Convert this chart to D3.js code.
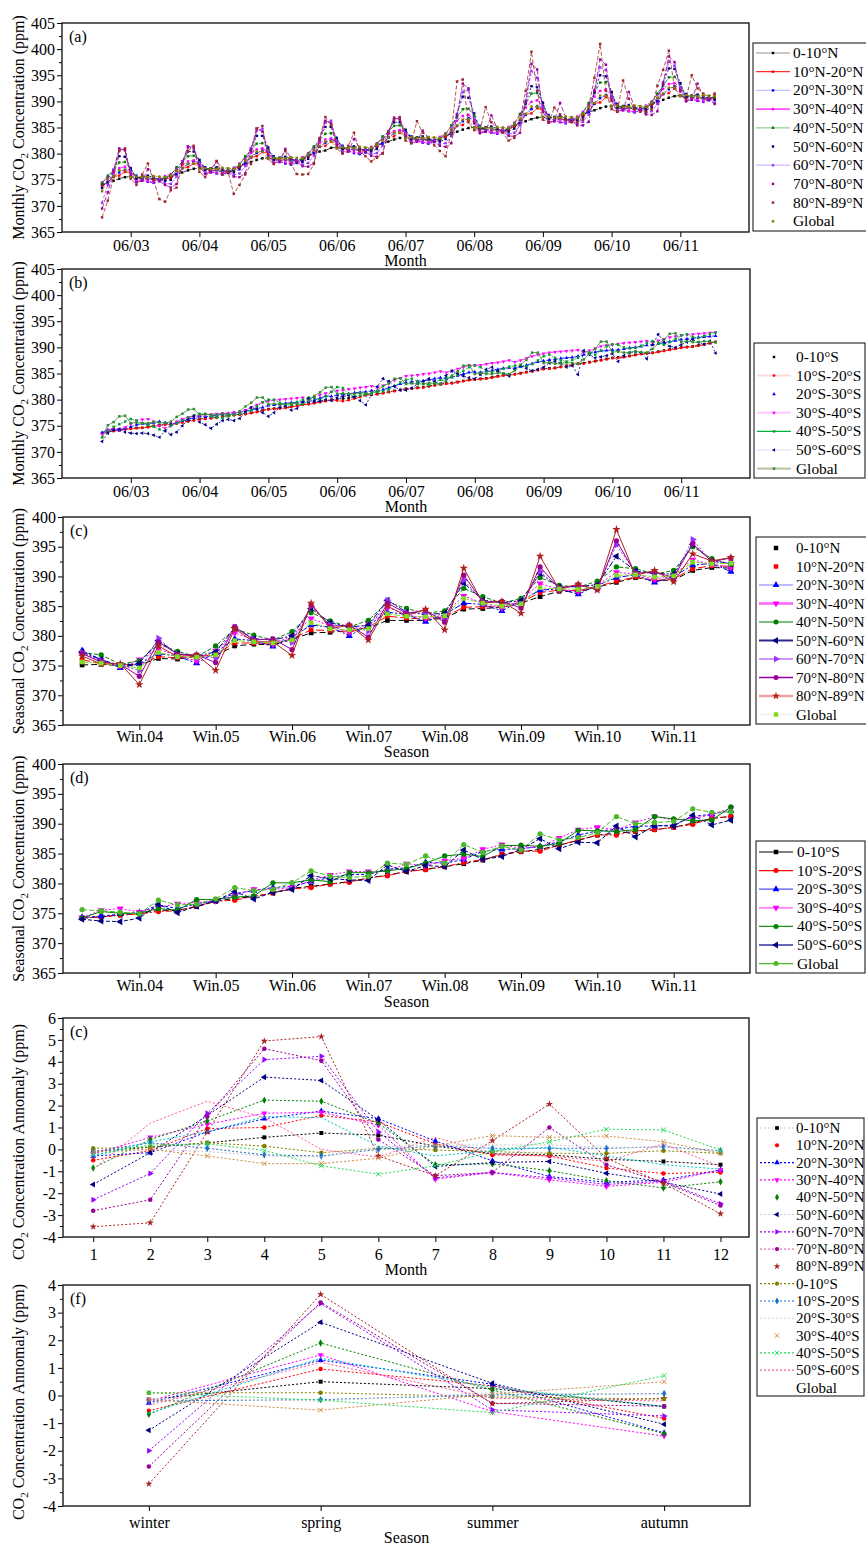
<!DOCTYPE html>
<html>
<head>
<meta charset="utf-8">
<script src="https://cdn.jsdelivr.net/npm/d3@7"></script>
<style>
  body { margin: 0; background: #fff; }
  svg text { font-family: "Liberation Serif", "Times New Roman", Times, serif; fill: #000; }
</style>
</head>
<body>
<div id="chart"></div>
<script>
// ---------- (a) monthly NH, Jan 2003 .. Dec 2011 ----------
const monthlyN0 = [
  374.0, 374.4, 374.8, 375.2, 375.5, 375.6, 375.2, 375.1, 375.2, 375.1, 375.2, 375.2,
  375.6, 376.0, 376.4, 376.8, 377.1, 377.2, 376.8, 376.7, 376.8, 376.5, 376.8, 376.8,
  377.6, 378.0, 378.4, 378.8, 379.1, 379.2, 378.8, 378.7, 378.8, 378.7, 378.8, 378.8,
  379.6, 380.0, 380.4, 380.6, 381.1, 381.2, 380.8, 380.7, 380.8, 380.7, 380.8, 380.8,
  381.5, 381.9, 382.3, 382.7, 383.0, 383.1, 382.7, 382.6, 382.7, 382.6, 382.7, 382.7,
  383.4, 383.8, 384.2, 384.6, 384.9, 385.0, 384.8, 384.5, 384.6, 384.5, 384.6, 384.6,
  385.4, 385.8, 386.2, 386.6, 386.9, 387.0, 386.6, 386.5, 386.6, 386.5, 386.6, 386.6,
  387.5, 387.9, 388.3, 388.7, 389.0, 389.1, 388.7, 388.6, 388.7, 388.6, 388.7, 388.7,
  389.5, 389.9, 390.3, 390.7, 391.0, 391.1, 390.7, 390.6, 390.7, 390.6, 390.7, 390.7
];
const monthlyN10 = [
  373.8, 374.5, 375.6, 375.8, 376.5, 376.4, 375.5, 375.2, 375.3, 374.9, 374.8, 375.1,
  375.4, 376.1, 377.2, 377.4, 378.1, 378.0, 377.1, 376.8, 376.9, 376.5, 376.4, 376.7,
  377.4, 378.1, 379.3, 379.5, 380.3, 380.1, 379.1, 378.7, 378.9, 378.4, 378.3, 378.6,
  379.4, 380.1, 381.3, 381.5, 382.3, 382.1, 381.1, 380.7, 380.9, 380.4, 380.3, 380.6,
  381.3, 382.0, 383.1, 383.3, 384.0, 383.9, 383.0, 382.7, 382.8, 382.4, 382.3, 382.6,
  383.2, 383.9, 385.3, 385.5, 386.4, 386.1, 385.0, 384.6, 384.7, 384.3, 384.2, 384.5,
  385.2, 385.9, 387.5, 387.7, 388.7, 388.4, 387.0, 386.6, 386.7, 386.3, 386.2, 386.5,
  387.3, 388.0, 389.6, 389.8, 390.8, 390.5, 389.1, 388.7, 388.8, 388.4, 388.3, 388.6,
  389.3, 390.0, 391.4, 391.6, 392.5, 392.2, 391.1, 390.7, 390.8, 390.4, 390.3, 390.6
];
const monthlyN20 = [
  374.2, 374.5, 375.6, 376.4, 376.9, 376.7, 375.8, 375.1, 374.6, 374.4, 374.7, 375.4,
  375.8, 376.1, 377.2, 378.0, 378.5, 378.3, 377.4, 376.7, 376.2, 376.0, 376.3, 377.0,
  377.7, 378.1, 379.3, 380.1, 380.6, 380.4, 379.5, 378.6, 378.1, 377.9, 378.2, 378.9,
  379.7, 380.1, 381.3, 382.1, 382.6, 382.4, 381.5, 380.6, 380.1, 379.9, 380.2, 380.9,
  381.7, 382.0, 383.1, 383.9, 384.4, 384.2, 383.3, 382.6, 382.1, 381.9, 382.2, 382.9,
  383.6, 383.9, 385.3, 386.2, 386.8, 386.5, 385.3, 384.5, 384.0, 383.8, 384.1, 384.8,
  385.6, 385.9, 387.4, 388.5, 389.1, 388.8, 387.4, 386.5, 386.0, 385.8, 386.1, 386.8,
  387.7, 388.0, 389.5, 390.6, 391.2, 390.9, 389.5, 388.6, 388.1, 387.9, 388.2, 388.9,
  389.7, 390.0, 391.4, 392.3, 392.9, 392.6, 391.4, 390.6, 390.1, 389.9, 390.2, 390.9
];
const monthlyN30 = [
  374.5, 375.5, 376.2, 377.2, 377.5, 376.6, 374.7, 374.8, 374.7, 374.5, 374.9, 375.7,
  376.1, 377.1, 377.8, 378.5, 378.7, 378.2, 376.3, 376.4, 376.3, 376.1, 376.5, 377.3,
  378.1, 379.2, 380.1, 380.8, 381.0, 380.4, 378.3, 378.4, 378.3, 378.1, 378.5, 379.3,
  380.1, 381.2, 382.0, 382.7, 382.9, 382.4, 380.3, 380.4, 380.3, 380.1, 380.5, 381.3,
  382.0, 382.9, 383.7, 384.3, 384.5, 384.1, 382.2, 382.3, 382.2, 382.0, 382.4, 383.2,
  383.9, 385.2, 386.3, 387.2, 387.4, 386.6, 384.1, 384.2, 384.1, 383.9, 384.3, 385.1,
  385.9, 387.4, 388.8, 389.9, 390.2, 389.1, 386.1, 386.2, 386.1, 385.9, 386.3, 387.1,
  388.0, 389.5, 390.9, 392.0, 392.3, 391.2, 388.2, 388.3, 388.2, 388.0, 388.4, 389.2,
  390.0, 391.3, 392.4, 393.3, 393.5, 392.7, 390.2, 390.3, 390.2, 390.0, 390.4, 391.2
];
const monthlyN40 = [
  374.3, 375.8, 376.8, 378.3, 378.4, 377.1, 375.4, 375.6, 375.5, 375.1, 375.0, 375.4,
  375.9, 377.4, 378.4, 379.5, 379.6, 378.7, 377.0, 377.2, 377.1, 376.7, 376.6, 377.0,
  377.9, 379.5, 380.6, 381.9, 382.0, 381.0, 379.0, 379.2, 379.1, 378.7, 378.6, 379.0,
  379.9, 381.4, 382.6, 383.8, 383.9, 382.9, 381.0, 381.2, 381.1, 380.7, 380.6, 381.0,
  381.8, 383.3, 384.2, 385.3, 385.4, 384.6, 382.9, 383.1, 383.0, 382.6, 382.5, 382.9,
  383.7, 385.4, 386.9, 388.5, 388.6, 387.2, 384.8, 385.0, 384.9, 384.5, 384.4, 384.8,
  385.7, 387.6, 389.5, 391.5, 391.6, 389.7, 386.8, 387.0, 386.9, 386.5, 386.4, 386.8,
  387.8, 389.7, 391.6, 393.6, 393.7, 391.8, 388.9, 389.1, 389.0, 388.6, 388.5, 388.9,
  389.8, 391.5, 393.0, 394.6, 394.7, 393.3, 390.9, 391.1, 391.0, 390.6, 390.5, 390.9
];
const monthlyN50 = [
  373.4, 375.1, 376.9, 379.5, 379.4, 377.2, 375.3, 375.6, 375.8, 375.4, 375.1, 374.8,
  375.0, 376.7, 378.5, 380.4, 380.4, 378.8, 376.9, 377.2, 377.4, 377.0, 376.7, 376.4,
  377.0, 378.7, 381.0, 383.4, 383.4, 381.2, 378.9, 379.2, 379.4, 379.0, 378.7, 378.4,
  379.0, 380.7, 382.8, 385.1, 385.1, 383.0, 380.9, 381.2, 381.4, 381.0, 380.7, 380.4,
  380.9, 382.6, 384.3, 386.0, 386.0, 384.5, 382.8, 383.1, 383.3, 382.9, 382.6, 382.3,
  382.8, 384.5, 387.6, 390.9, 390.7, 387.7, 384.7, 385.0, 385.2, 384.8, 384.5, 384.2,
  384.8, 386.5, 389.6, 392.9, 392.7, 389.7, 386.7, 387.0, 387.2, 386.8, 386.5, 386.2,
  386.9, 388.6, 391.7, 395.0, 394.8, 391.8, 388.8, 389.1, 389.3, 388.9, 388.6, 388.3,
  388.9, 390.6, 393.4, 396.3, 396.2, 393.5, 390.8, 391.1, 391.3, 390.9, 390.6, 390.3
];
const monthlyN60 = [
  370.6, 374.0, 376.9, 380.6, 380.9, 376.5, 374.6, 375.0, 375.3, 374.8, 375.1, 374.3,
  374.2, 375.6, 378.5, 381.1, 381.4, 378.1, 376.2, 376.6, 376.9, 376.4, 376.7, 375.9,
  376.2, 377.6, 381.0, 384.4, 384.7, 380.4, 378.2, 378.6, 378.9, 378.4, 378.7, 377.9,
  378.2, 379.6, 382.9, 385.9, 386.3, 382.3, 380.2, 380.6, 380.9, 380.4, 380.7, 379.9,
  380.1, 381.5, 384.3, 386.6, 386.9, 383.9, 382.1, 382.5, 382.8, 382.3, 382.6, 381.8,
  382.0, 383.4, 387.5, 391.8, 392.2, 386.5, 384.0, 384.4, 384.7, 384.2, 384.5, 383.7,
  384.0, 385.4, 390.1, 395.8, 394.5, 388.8, 386.0, 386.4, 386.7, 386.2, 386.5, 385.7,
  386.1, 387.5, 392.2, 396.5, 396.0, 390.9, 388.1, 388.5, 388.8, 388.3, 388.6, 387.8,
  388.1, 389.5, 393.7, 397.6, 396.8, 392.7, 390.1, 390.5, 390.8, 390.3, 390.6, 389.8
];
const monthlyN70 = [
  369.5, 372.6, 376.6, 381.0, 380.6, 376.0, 374.5, 374.8, 377.0, 375.5, 374.8, 374.0,
  373.5, 374.2, 378.2, 381.4, 381.0, 377.6, 376.1, 376.4, 378.6, 377.1, 376.4, 375.6,
  375.5, 376.2, 380.6, 384.8, 384.2, 379.7, 378.1, 378.4, 380.9, 379.1, 378.4, 377.6,
  377.5, 378.2, 382.5, 386.3, 385.8, 381.7, 380.1, 380.4, 382.8, 381.1, 380.4, 379.6,
  379.4, 380.1, 383.9, 386.9, 386.5, 383.4, 382.0, 382.3, 384.4, 383.0, 382.3, 381.5,
  381.3, 382.0, 387.3, 393.4, 392.5, 385.8, 383.9, 384.2, 387.3, 384.9, 384.2, 383.4,
  383.3, 384.0, 389.9, 397.2, 396.1, 388.0, 385.9, 386.2, 389.7, 386.9, 386.2, 385.4,
  385.4, 386.1, 392.0, 398.0, 397.0, 390.1, 388.0, 388.3, 391.8, 389.0, 388.3, 387.5,
  387.4, 388.1, 393.4, 398.6, 397.5, 391.9, 390.0, 390.3, 393.4, 391.0, 390.3, 389.5
];
const monthlyN80 = [
  367.8, 371.0, 375.5, 380.5, 381.0, 375.2, 374.0, 376.0, 378.1, 375.0, 371.3, 370.8,
  373.0, 373.5, 378.0, 380.5, 381.5, 376.5, 375.5, 377.0, 378.5, 376.0, 376.5, 372.3,
  374.0, 376.0, 378.0, 384.8, 385.3, 379.0, 378.0, 379.0, 380.5, 378.0, 376.1, 376.0,
  376.1, 378.0, 383.0, 387.0, 385.5, 381.0, 380.0, 381.5, 384.0, 380.5, 379.5, 378.5,
  379.2, 380.0, 384.0, 386.5, 387.0, 382.5, 382.0, 386.2, 384.0, 383.0, 381.6, 380.5,
  379.5, 384.0, 393.8, 394.2, 386.0, 384.5, 384.5, 388.9, 386.0, 385.0, 384.0, 382.5,
  383.0, 386.5, 392.0, 399.5, 392.0, 386.5, 386.0, 388.8, 387.5, 386.5, 386.0, 386.0,
  386.5, 389.0, 394.5, 401.0, 392.0, 388.5, 388.0, 394.0, 390.5, 388.5, 388.0, 388.0,
  388.5, 393.0, 396.0, 399.7, 392.5, 391.0, 390.5, 395.0, 392.5, 391.5, 391.0, 391.5
];
const monthlyGlobal = [
  372.8, 375.1, 375.7, 376.8, 376.9, 375.5, 375.6, 375.5, 375.5, 375.7, 375.6, 375.5,
  375.8, 376.7, 377.3, 378.1, 378.2, 377.1, 377.2, 377.1, 377.1, 377.3, 377.2, 377.1,
  377.8, 378.7, 379.4, 380.4, 380.4, 379.1, 379.2, 379.1, 379.1, 379.3, 379.2, 379.1,
  379.8, 380.7, 381.4, 382.3, 382.4, 381.1, 381.2, 381.1, 381.1, 381.3, 381.2, 381.1,
  381.7, 382.6, 383.1, 384.0, 384.1, 383.0, 383.1, 383.0, 383.0, 383.2, 383.1, 383.0,
  383.6, 384.6, 385.4, 386.5, 386.6, 384.9, 385.1, 384.9, 384.9, 385.1, 385.0, 384.9,
  385.6, 386.7, 387.6, 389.0, 389.0, 387.0, 387.1, 386.9, 386.9, 387.1, 387.0, 386.9,
  387.7, 388.8, 389.7, 391.1, 391.1, 389.1, 389.2, 389.0, 389.0, 389.2, 389.1, 389.0,
  389.7, 390.7, 391.5, 392.6, 392.7, 391.0, 391.2, 391.0, 391.0, 391.2, 391.1, 391.0
];

// ---------- (b) monthly SH ----------
const monthlyS0 = [
  373.6, 373.9, 374.0, 374.2, 374.4, 374.5, 374.6, 374.6, 374.8, 375.0, 375.1, 375.3,
  375.4, 375.5, 375.7, 375.9, 376.1, 376.3, 376.4, 376.5, 376.6, 376.8, 377.0, 377.1,
  377.2, 377.3, 377.5, 377.7, 378.0, 378.2, 378.3, 378.4, 378.5, 378.7, 378.9, 379.1,
  379.2, 379.4, 379.6, 379.8, 380.0, 380.1, 380.2, 380.3, 380.5, 380.7, 380.9, 381.0,
  381.1, 381.3, 381.5, 381.7, 381.9, 382.1, 382.2, 382.3, 382.4, 382.6, 382.8, 383.0,
  383.1, 383.2, 383.4, 383.6, 383.8, 383.9, 384.0, 384.1, 384.3, 384.5, 384.7, 384.8,
  384.9, 385.1, 385.3, 385.5, 385.7, 385.9, 386.0, 386.1, 386.3, 386.5, 386.7, 386.9,
  387.0, 387.2, 387.4, 387.6, 387.8, 388.0, 388.1, 388.2, 388.4, 388.6, 388.8, 388.9,
  389.0, 389.2, 389.4, 389.6, 389.8, 390.0, 390.1, 390.2, 390.4, 390.6, 390.8, 391.0
];
const monthlyS10 = [
  373.5, 373.8, 374.0, 374.1, 374.3, 374.4, 374.5, 374.6, 374.7, 374.9, 375.0, 375.2,
  375.3, 375.4, 375.6, 375.8, 376.0, 376.2, 376.3, 376.4, 376.5, 376.7, 376.9, 377.0,
  377.1, 377.2, 377.4, 377.6, 377.9, 378.1, 378.2, 378.3, 378.4, 378.6, 378.8, 379.0,
  379.1, 379.3, 379.5, 379.7, 379.9, 379.8, 379.7, 379.9, 380.2, 380.5, 380.8, 380.9,
  381.0, 381.2, 381.4, 381.6, 381.8, 382.0, 382.1, 382.2, 382.3, 382.5, 382.7, 382.9,
  383.0, 383.1, 383.3, 383.5, 383.7, 383.8, 383.9, 384.0, 384.2, 384.4, 384.6, 384.7,
  384.8, 385.0, 385.2, 385.4, 385.6, 385.8, 385.9, 386.0, 386.2, 386.4, 386.6, 386.8,
  386.9, 387.1, 387.3, 387.5, 387.7, 387.9, 388.0, 388.1, 388.3, 388.5, 388.7, 388.8,
  388.9, 389.1, 389.3, 389.5, 389.7, 389.9, 390.0, 390.1, 390.3, 390.5, 390.8, 391.1
];
const monthlyS20 = [
  373.7, 374.2, 374.3, 374.1, 374.5, 374.8, 375.2, 375.4, 375.3, 375.6, 375.8, 375.6,
  375.2, 375.6, 375.9, 376.2, 376.5, 376.8, 376.7, 376.9, 377.0, 377.2, 377.3, 377.5,
  377.6, 377.8, 378.0, 378.3, 378.5, 378.9, 379.0, 379.1, 379.3, 379.4, 379.5, 379.6,
  379.6, 379.9, 380.3, 380.7, 380.6, 380.9, 381.0, 381.1, 381.3, 381.4, 381.5, 381.7,
  381.6, 381.9, 382.3, 382.6, 383.0, 383.3, 383.4, 383.5, 383.6, 383.8, 384.0, 384.2,
  384.0, 384.3, 384.6, 384.9, 385.2, 385.3, 385.2, 385.4, 385.6, 385.8, 386.0, 386.1,
  386.0, 386.3, 386.6, 386.9, 387.2, 387.4, 387.6, 387.7, 387.9, 388.0, 388.1, 388.3,
  388.6, 388.9, 389.1, 389.3, 389.4, 389.5, 389.5, 389.7, 389.9, 390.0, 390.2, 390.4,
  390.5, 390.7, 390.9, 391.1, 391.3, 391.5, 391.6, 391.7, 391.9, 392.0, 392.1, 392.2
];
const monthlyS30 = [
  373.4, 374.2, 374.4, 374.3, 374.7, 375.3, 376.0, 376.2, 376.3, 375.8, 375.0, 374.5,
  375.0, 375.8, 376.3, 376.6, 376.8, 377.0, 377.1, 377.2, 377.3, 377.4, 377.4, 377.5,
  377.6, 378.0, 378.5, 379.0, 379.5, 379.7, 379.9, 380.0, 380.1, 380.2, 380.3, 380.4,
  380.2, 380.5, 380.9, 381.2, 381.5, 381.7, 381.8, 382.0, 382.1, 382.3, 382.4, 382.6,
  382.3, 382.7, 383.2, 383.7, 384.1, 384.5, 384.6, 384.7, 384.9, 385.0, 385.2, 385.4,
  385.2, 385.5, 385.9, 386.2, 386.5, 386.6, 386.6, 386.8, 387.0, 387.1, 387.3, 387.5,
  387.2, 387.5, 387.9, 388.3, 388.6, 388.8, 389.0, 389.1, 389.2, 389.3, 389.4, 389.5,
  389.0, 389.4, 389.8, 390.2, 390.4, 390.5, 390.7, 390.8, 390.9, 391.0, 391.1, 391.2,
  391.0, 391.3, 391.6, 391.9, 392.1, 392.3, 392.4, 392.5, 392.6, 392.7, 392.8, 392.9
];
const monthlyS40 = [
  372.8, 373.9, 374.8, 375.3, 375.8, 376.3, 376.0, 375.5, 375.2, 374.8, 374.3, 374.0,
  375.0, 375.5, 376.0, 376.6, 377.0, 377.3, 377.3, 376.8, 376.6, 376.5, 376.8, 377.0,
  377.3, 377.6, 378.0, 378.7, 379.5, 380.0, 380.0, 379.4, 379.0, 379.0, 379.5, 380.0,
  380.4, 380.3, 380.0, 380.6, 381.5, 382.4, 382.2, 381.0, 380.6, 380.8, 381.0, 381.3,
  381.5, 381.6, 382.0, 382.6, 383.3, 383.8, 384.0, 383.5, 383.0, 382.8, 383.3, 383.8,
  384.2, 384.3, 384.8, 385.5, 386.2, 386.5, 386.2, 385.5, 385.3, 385.5, 385.9, 386.3,
  386.5, 386.5, 386.4, 386.8, 387.5, 388.3, 388.6, 388.0, 387.5, 387.3, 387.6, 388.0,
  389.3, 389.0, 388.6, 389.4, 390.2, 390.6, 390.5, 390.0, 389.8, 389.9, 390.3, 390.8,
  391.2, 390.9, 390.5, 391.0, 391.6, 392.3, 392.5, 392.0, 391.8, 392.2, 392.6, 392.8
];
const monthlyS50 = [
  372.0, 373.6, 374.2, 374.4, 373.8, 373.6, 373.5, 373.6, 373.5, 373.2, 372.8, 374.0,
  373.3, 373.8, 375.0, 376.2, 376.8, 375.7, 375.2, 374.5, 375.3, 376.0, 376.2, 376.0,
  376.4, 377.7, 378.5, 378.2, 377.5, 376.8, 377.5, 378.5, 378.8, 378.0, 378.3, 379.5,
  380.2, 379.6, 379.7, 380.0, 379.8, 380.4, 380.6, 380.8, 380.5, 379.8, 379.0, 381.0,
  382.5, 384.0, 383.5, 382.5, 381.8, 381.8, 382.2, 383.0, 383.5, 384.0, 383.5, 383.0,
  384.6, 385.5, 385.0, 384.5, 384.2, 384.0, 384.8, 385.8, 386.2, 385.5, 385.0, 384.5,
  385.8, 386.5, 386.0, 385.5, 385.8, 386.2, 387.0, 387.3, 387.0, 386.2, 386.5, 384.8,
  389.4, 388.6, 388.0, 388.2, 388.4, 388.8, 387.3, 388.4, 389.0, 389.2, 389.0, 387.8,
  390.5, 392.5, 391.0, 390.2, 390.0, 390.5, 391.0, 391.5, 391.0, 390.6, 391.2, 388.9
];

// ---------- (c) seasonal NH, Spr.03 .. Aut.11 ----------
const seasonalN0 = [375.1, 375.2, 375.0, 375.1, 376.2, 376.1, 376.6, 376.7, 378.3, 378.6, 378.5, 379.4, 380.5, 380.6, 380.9, 381.3, 382.6, 382.6, 382.6, 383.0, 384.5, 384.6, 384.8, 385.5, 386.6, 387.5, 387.4, 388.2, 389.0, 389.8, 389.3, 389.4, 391.0, 391.5, 391.4];
const seasonalN10 = [376.0, 375.3, 375.1, 375.2, 376.5, 376.3, 376.5, 376.9, 378.8, 378.8, 378.6, 379.5, 381.0, 380.9, 380.6, 381.5, 383.3, 383.0, 382.8, 383.2, 384.8, 384.9, 384.9, 385.6, 387.3, 387.7, 387.6, 388.3, 389.2, 389.9, 389.3, 389.6, 391.3, 391.8, 391.7];
const seasonalN20 = [377.5, 376.0, 374.6, 375.3, 377.0, 376.6, 375.4, 377.2, 379.5, 379.2, 378.2, 379.8, 381.8, 381.5, 380.0, 381.8, 384.0, 383.6, 382.4, 383.6, 385.5, 385.3, 384.2, 385.9, 387.7, 387.9, 387.0, 388.5, 389.8, 390.3, 389.0, 390.0, 391.9, 392.2, 390.8];
const seasonalN30 = [377.0, 375.9, 374.9, 376.0, 377.8, 376.6, 375.8, 377.5, 380.5, 379.3, 378.6, 380.0, 382.9, 381.7, 380.6, 382.0, 384.8, 383.6, 382.9, 383.8, 386.7, 385.5, 384.7, 386.0, 388.8, 387.8, 387.5, 388.5, 390.7, 390.4, 389.5, 390.3, 392.8, 392.0, 391.5];
const seasonalN40 = [377.2, 376.8, 375.2, 375.8, 378.6, 377.4, 376.5, 378.3, 381.2, 380.1, 379.3, 380.7, 383.9, 382.5, 381.5, 382.6, 385.7, 384.6, 383.8, 384.2, 388.0, 386.6, 385.5, 386.3, 389.8, 388.5, 388.2, 389.2, 391.6, 391.3, 390.4, 391.0, 395.0, 393.0, 392.0];
const seasonalN50 = [377.3, 376.0, 375.0, 375.4, 379.2, 377.0, 376.6, 377.3, 381.4, 379.5, 379.3, 380.0, 384.6, 382.2, 381.5, 381.8, 386.0, 384.0, 383.6, 383.8, 388.9, 386.0, 385.6, 385.9, 390.5, 388.2, 388.3, 388.6, 393.4, 390.9, 390.5, 390.4, 395.4, 392.6, 392.2];
const seasonalN60 = [377.2, 375.8, 375.0, 374.2, 379.6, 376.8, 376.7, 376.3, 381.5, 379.4, 379.4, 378.9, 385.0, 381.8, 381.7, 380.8, 386.0, 383.9, 383.8, 382.9, 389.4, 385.8, 385.5, 385.2, 390.8, 388.0, 388.4, 388.0, 395.3, 390.6, 390.6, 389.9, 396.2, 392.4, 392.3];
const seasonalN70 = [377.0, 375.6, 375.2, 373.2, 379.0, 376.9, 376.8, 375.5, 381.5, 379.3, 379.5, 377.7, 385.2, 381.6, 381.8, 379.8, 385.5, 383.8, 384.3, 382.3, 390.2, 385.7, 385.8, 384.7, 391.6, 388.0, 388.6, 387.8, 396.0, 390.5, 390.8, 389.8, 395.5, 392.5, 393.1];
const seasonalN80 = [376.6, 375.3, 375.3, 371.8, 378.3, 376.5, 376.8, 374.2, 381.2, 379.0, 379.0, 376.7, 385.5, 381.2, 381.8, 379.3, 385.0, 383.4, 384.5, 381.0, 391.4, 385.5, 385.8, 383.8, 393.4, 387.8, 388.7, 387.7, 397.9, 390.2, 391.0, 389.1, 393.8, 392.6, 393.2];
const seasonalGlobalN = [375.6, 375.4, 375.0, 374.6, 377.2, 376.5, 376.4, 376.8, 379.2, 379.0, 378.8, 379.3, 382.2, 381.2, 381.0, 381.2, 383.7, 383.3, 383.2, 383.4, 386.3, 385.5, 385.0, 385.4, 388.1, 387.9, 387.8, 388.3, 390.2, 390.3, 389.9, 390.1, 392.4, 392.1, 392.2];

// ---------- (d) seasonal SH ----------
const seasonalS0 = [374.2, 374.4, 374.7, 375.0, 375.5, 375.5, 376.1, 377.0, 377.5, 377.8, 378.4, 379.2, 379.5, 379.9, 380.3, 380.9, 381.4, 382.0, 382.4, 382.8, 383.3, 383.9, 384.9, 385.3, 385.7, 386.4, 387.2, 388.1, 388.4, 388.7, 389.0, 389.4, 390.1, 390.9, 391.2];
const seasonalS10 = [374.2, 374.4, 374.7, 374.9, 375.3, 375.4, 376.2, 377.0, 377.2, 377.8, 378.4, 379.1, 379.3, 379.9, 380.2, 380.9, 381.3, 382.0, 382.3, 382.8, 383.5, 384.0, 384.8, 385.4, 385.4, 386.4, 387.3, 388.1, 388.1, 388.8, 389.0, 389.4, 389.9, 390.9, 391.2];
const seasonalS20 = [374.3, 374.5, 374.9, 375.1, 376.4, 375.8, 376.6, 377.1, 378.3, 378.8, 379.3, 379.5, 380.3, 381.0, 381.5, 381.5, 382.4, 382.6, 383.5, 383.4, 384.0, 385.4, 385.7, 385.8, 386.2, 387.0, 388.1, 388.8, 389.0, 389.6, 389.6, 389.8, 391.2, 391.6, 392.2];
const seasonalS30 = [374.3, 375.5, 375.8, 375.2, 376.0, 376.6, 376.8, 377.1, 378.0, 379.0, 379.0, 379.3, 380.5, 381.4, 382.0, 382.0, 382.0, 383.3, 383.0, 383.8, 384.2, 385.7, 386.5, 385.9, 386.1, 387.6, 389.0, 389.4, 389.0, 390.2, 391.2, 390.6, 390.9, 391.5, 392.6];
const seasonalS40 = [374.2, 375.3, 375.0, 375.0, 375.8, 375.5, 377.3, 377.3, 377.7, 377.9, 380.1, 380.1, 380.6, 380.3, 381.8, 381.8, 382.1, 382.5, 383.4, 384.6, 384.9, 384.5, 386.3, 386.4, 386.2, 386.7, 388.9, 388.8, 388.7, 389.0, 391.2, 390.8, 390.5, 390.6, 392.8];
const seasonalS50 = [374.0, 373.7, 373.6, 374.2, 376.5, 375.1, 376.2, 377.1, 378.6, 377.4, 378.5, 379.0, 381.3, 380.8, 380.6, 380.5, 383.1, 382.0, 383.0, 382.8, 385.6, 384.0, 384.5, 385.7, 387.5, 385.8, 386.9, 386.8, 389.6, 387.8, 389.7, 389.6, 391.4, 389.8, 390.6];
const seasonalGlobalS = [375.6, 375.4, 375.2, 374.9, 377.2, 376.4, 376.5, 377.4, 379.3, 378.8, 379.0, 380.1, 382.1, 381.2, 381.0, 381.2, 383.4, 383.2, 384.6, 383.4, 386.5, 385.2, 386.2, 385.6, 388.3, 387.3, 387.7, 388.5, 391.2, 390.0, 390.2, 390.4, 392.5, 391.9, 392.0];

// ---------- (e) monthly anomaly, months 1..12 ----------
const anomN0 = [-0.1, 0.1, 0.3, 0.55, 0.75, 0.65, 0.15, -0.2, -0.25, -0.45, -0.55, -0.7];
const anomN10 = [-0.5, -0.05, 0.95, 1.0, 1.55, 1.25, 0.25, -0.25, -0.3, -0.85, -1.1, -1.05];
const anomN20 = [-0.3, -0.15, 0.8, 1.4, 1.75, 1.4, 0.38, -0.52, -1.24, -1.5, -1.4, -0.94];
const anomN30 = [-0.2, 0.55, 1.15, 1.65, 1.7, 1.1, -1.36, -1.06, -1.39, -1.69, -1.5, -0.94];
const anomN40 = [-0.85, 0.45, 1.3, 2.25, 2.2, 1.2, -0.7, -0.66, -0.97, -1.43, -1.76, -1.48];
const anomN50 = [-1.6, -0.15, 1.55, 3.3, 3.15, 1.35, -0.78, -0.6, -0.55, -1.09, -1.5, -2.04];
const anomN60 = [-2.3, -1.1, 1.65, 4.1, 4.25, 0.8, -1.3, -1.05, -1.3, -1.6, -1.45, -2.48];
const anomN70 = [-2.8, -2.3, 1.5, 4.6, 4.05, 0.45, -1.2, -1.05, 1.0, -0.7, -1.5, -2.56];
const anomN80 = [-3.53, -3.35, 0.8, 4.95, 5.15, -0.3, -1.2, 0.4, 2.07, -0.4, -1.55, -2.94];
const anomS0 = [0.05, 0.1, 0.3, 0.15, -0.15, 0.05, -0.03, -0.1, -0.18, -0.18, -0.06, -0.18];
const anomS10 = [-0.1, 0.3, 0.05, -0.25, -0.3, 0.0, 0.15, 0.05, 0.05, 0.05, 0.12, -0.06];
const anomS20 = [-0.2, 0.0, -0.1, -0.3, -0.35, 0.1, 0.2, 0.2, 0.2, 0.1, 0.1, -0.1];
const anomS30 = [-0.1, 0.0, -0.3, -0.65, -0.65, -0.4, 0.17, 0.63, 0.55, 0.61, 0.35, -0.18];
const anomS40 = [-0.25, 0.2, 0.25, -0.05, -0.75, -1.13, -0.75, -0.1, 0.35, 0.92, 0.89, -0.03];
const anomS50 = [-0.9, 1.2, 2.2, 1.45, 0.0, -0.35, 0.55, -0.2, -0.3, -0.55, 0.25, -0.78];
const anomGlobal = [-0.3, 0.35, 0.8, 1.5, 1.45, 0.15, -0.3, -0.05, 0.1, -0.3, -0.7, -0.9];

// ---------- (f) seasonal anomaly: winter, spring, summer, autumn ----------
const seasAnomN0 = [-0.15, 0.5, 0.25, -0.4];
const seasAnomN10 = [-0.55, 0.96, 0.35, -0.83];
const seasAnomN20 = [-0.27, 1.28, 0.41, -1.35];
const seasAnomN30 = [-0.2, 1.47, -0.58, -1.47];
const seasAnomN40 = [-0.68, 1.9, 0.2, -1.38];
const seasAnomN50 = [-1.26, 2.65, 0.44, -1.04];
const seasAnomN60 = [-2.0, 3.33, -0.52, -0.74];
const seasAnomN70 = [-2.57, 3.37, -0.28, -0.39];
const seasAnomN80 = [-3.2, 3.66, -0.3, -0.1];
const seasAnomS0 = [0.1, 0.1, -0.05, -0.13];
const seasAnomS10 = [-0.2, -0.15, 0.02, 0.07];
const seasAnomS20 = [-0.1, -0.2, 0.1, 0.05];
const seasAnomS30 = [-0.15, -0.53, 0.05, 0.5];
const seasAnomS40 = [0.1, -0.17, -0.62, 0.72];
const seasAnomS50 = [-0.35, 1.2, -0.1, -0.2];
const seasAnomGlobal = [-0.65, 1.35, 0.3, -0.4];

// ---------- tick labels ----------
const monthTickLabels = ['06/03', '06/04', '06/05', '06/06', '06/07', '06/08', '06/09', '06/10', '06/11'];
const winterTickLabels = ['Win.04', 'Win.05', 'Win.06', 'Win.07', 'Win.08', 'Win.09', 'Win.10', 'Win.11'];
const monthNumbers = [1, 2, 3, 4, 5, 6, 7, 8, 9, 10, 11, 12];
const seasonNames = ['winter', 'spring', 'summer', 'autumn'];

const nhNames = ['0-10°N', '10°N-20°N', '20°N-30°N', '30°N-40°N', '40°N-50°N', '50°N-60°N', '60°N-70°N', '70°N-80°N', '80°N-89°N'];
const shNames = ['0-10°S', '10°S-20°S', '20°S-30°S', '30°S-40°S', '40°S-50°S', '50°S-60°S'];

const svg = d3.select('#chart').append('svg')
  .attr('width', 866)
  .attr('height', 1546);

const MARK = {
  sq: {type: d3.symbolSquare, rot: 0},
  ci: {type: d3.symbolCircle, rot: 0},
  up: {type: d3.symbolTriangle, rot: 0},
  dn: {type: d3.symbolTriangle, rot: 180},
  di: {type: d3.symbolDiamond, rot: 0},
  lt: {type: d3.symbolTriangle, rot: -90},
  rt: {type: d3.symbolTriangle, rot: 90},
  st: {type: d3.symbolStar, rot: 0},
  x: {type: d3.symbolTimes, rot: 0, stroke: true}
};

function drawMark(g, s, size, cx, cy) {
  const m = MARK[s.mark];
  g.append('path')
    .attr('transform', `translate(${cx},${cy}) rotate(${m.rot})`)
    .attr('d', d3.symbol(m.type, size)())
    .attr('fill', m.stroke ? 'none' : s.color)
    .attr('stroke', m.stroke ? s.color : 'none')
    .attr('stroke-width', m.stroke ? 1 : null);
}

function ytitle(g, cx, cy, before, after) {
  const t = g.append('text')
    .attr('transform', `translate(${cx},${cy}) rotate(-90)`)
    .attr('text-anchor', 'middle')
    .attr('font-size', 16);
  t.append('tspan').text(before);
  t.append('tspan').attr('font-size', 11).attr('dy', 4).text('2');
  t.append('tspan').attr('dy', -4).text(after);
}

let clipCount = 0;
function drawPanel(cfg) {
  const left = cfg.left, right = cfg.right, top = cfg.top, bottom = cfg.bottom;
  const x = d3.scaleLinear().domain(cfg.xDomain).range([left, right]);
  const y = d3.scaleLinear().domain(cfg.yDomain).range([bottom, top]);
  const g = svg.append('g');

  const clipId = `clip${clipCount++}`;
  g.append('clipPath').attr('id', clipId)
    .append('rect').attr('x', left).attr('y', top).attr('width', right - left).attr('height', bottom - top);

  const plot = g.append('g').attr('clip-path', `url(#${clipId})`);
  cfg.series.forEach(s => {
    const line = d3.line()
      .x((d, i) => x(cfg.xValues[i]))
      .y(d => y(d));
    plot.append('path')
      .attr('d', line(s.values))
      .attr('fill', 'none')
      .attr('stroke', s.color)
      .attr('stroke-width', s.width || cfg.lineWidth)
      .attr('stroke-dasharray', s.dash || null);
    if (s.mark) {
      const mg = plot.append('g');
      s.values.forEach((d, i) => drawMark(mg, s, s.size || cfg.markSize, x(cfg.xValues[i]), y(d)));
    }
  });

  // y axis: major + minor ticks
  const gy = g.append('g').attr('transform', `translate(${left},0)`)
    .call(d3.axisLeft(y).tickValues(cfg.yTicks).tickSize(5).tickPadding(2).tickFormat(d => String(d)));
  g.append('g').attr('transform', `translate(${left},0)`)
    .call(d3.axisLeft(y).tickValues(cfg.yMinor).tickSize(3).tickFormat(''))
    .call(a => a.select('.domain').remove());
  gy.select('.domain').remove();
  gy.selectAll('text').attr('font-size', 16).attr('font-family', null);

  const gx = g.append('g').attr('transform', `translate(0,${bottom})`)
    .call(d3.axisBottom(x).tickValues(cfg.xTicks).tickSize(5).tickFormat((d, i) => cfg.xLabels[i]));
  gx.select('.domain').remove();
  gx.selectAll('text').attr('font-size', 16).attr('font-family', null)
    .attr('y', cfg.tickOffset).attr('dy', 0);

  g.selectAll('.tick line').attr('stroke', '#000').attr('stroke-width', 1);

  g.append('rect')
    .attr('x', left).attr('y', top)
    .attr('width', right - left).attr('height', bottom - top)
    .attr('fill', 'none').attr('stroke', '#1a1a1a').attr('stroke-width', 1.4);

  g.append('text').attr('x', left + 7).attr('y', top + 19).attr('font-size', 16).text(cfg.label);
  g.append('text').attr('x', (left + right) / 2).attr('y', bottom + cfg.titleOffset)
    .attr('text-anchor', 'middle').attr('font-size', 16).text(cfg.xTitle);
  ytitle(g, 24, cfg.yTitleY || (top + bottom) / 2, cfg.yTitle[0], cfg.yTitle[1]);

  if (cfg.legend) drawLegend(cfg.legend, cfg.legendSeries || cfg.series, cfg.markSize);
}

function drawLegend(L, series, markSize) {
  const g = svg.append('g');
  g.append('rect')
    .attr('x', L.x).attr('y', L.y).attr('width', L.w).attr('height', L.h)
    .attr('fill', '#fff').attr('stroke', '#333').attr('stroke-width', 1.2);
  series.forEach((s, i) => {
    const cy = L.y0 + i * L.dy;
    if (s.leg) {
      g.append('line')
        .attr('x1', L.x + 3).attr('x2', L.x + 37).attr('y1', cy).attr('y2', cy)
        .attr('stroke', s.leg).attr('stroke-width', s.legWidth || 1.2)
        .attr('stroke-dasharray', L.dotted ? '2,2' : null);
    }
    if (s.mark) drawMark(g, s, L.markSize || s.size || markSize, L.x + 20, cy);
    g.append('text').attr('x', L.tx).attr('y', cy + 5).attr('font-size', L.fontSize).text(s.name);
  });
}

const monthIndex = monthlyN0.map((d, i) => i);
const monthTicks = monthTickLabels.map((d, i) => 5 + 12 * i);
const seasonIndex = seasonalN0.map((d, i) => i);
const winterTicks = winterTickLabels.map((d, i) => 3 + 4 * i);
const concTicks = [365, 370, 375, 380, 385, 390, 395, 400, 405];
const concMinor = [367.5, 372.5, 377.5, 382.5, 387.5, 392.5, 397.5, 402.5];

// (a)
drawPanel({
  left: 62, right: 749, top: 23, bottom: 232,
  xDomain: [-7, 113], yDomain: [365, 405],
  xValues: monthIndex, xTicks: monthTicks, xLabels: monthTickLabels,
  yTicks: concTicks, yMinor: concMinor,
  tickOffset: 19, titleOffset: 34,
  label: '(a)', xTitle: 'Month', yTitle: ['Monthly CO', ' Concentration (ppm)'],
  lineWidth: 0.8, markSize: 6,
  series: [
    {name: nhNames[0], values: monthlyN0, color: '#000000', dash: '3,2', mark: 'sq', leg: '#c8c8c8', legWidth: 2},
    {name: nhNames[1], values: monthlyN10, color: '#ff0000', dash: '5,2', mark: 'sq', leg: '#ff3030'},
    {name: nhNames[2], values: monthlyN20, color: '#0000ff', dash: '2,2', mark: 'sq', leg: '#c4c4ff'},
    {name: nhNames[3], values: monthlyN30, color: '#ff00ff', dash: '6,2,2,2', mark: 'sq', leg: '#ff50ff', legWidth: 1.6},
    {name: nhNames[4], values: monthlyN40, color: '#008000', dash: '4,2', mark: 'sq', leg: '#8fd08f'},
    {name: nhNames[5], values: monthlyN50, color: '#000080', dash: '2,2', mark: 'sq', leg: null},
    {name: nhNames[6], values: monthlyN60, color: '#9933ff', dash: '3,2', mark: 'sq', leg: '#d4b8ff'},
    {name: nhNames[7], values: monthlyN70, color: '#990099', dash: '5,2', mark: 'sq', leg: null},
    {name: nhNames[8], values: monthlyN80, color: '#a0282a', dash: '4,2', mark: 'sq', leg: null},
    {name: 'Global', values: monthlyGlobal, color: '#808000', dash: '2,2', mark: 'sq', leg: null}
  ],
  legend: {x: 753, y: 43, w: 120, h: 188, y0: 53, dy: 18.7, tx: 793, fontSize: 15.4, markSize: 6}
});

// (b)
drawPanel({
  left: 62, right: 750, top: 269, bottom: 478,
  xDomain: [-7, 113], yDomain: [365, 405],
  xValues: monthIndex, xTicks: monthTicks, xLabels: monthTickLabels,
  yTicks: concTicks, yMinor: concMinor,
  tickOffset: 19, titleOffset: 34,
  label: '(b)', xTitle: 'Month', yTitle: ['Monthly CO', ' Concentration (ppm)'],
  lineWidth: 0.8, markSize: 6,
  series: [
    {name: shNames[0], values: monthlyS0, color: '#000000', dash: '2,2', mark: 'sq', leg: null},
    {name: shNames[1], values: monthlyS10, color: '#ff0000', dash: '4,2', mark: 'ci', leg: '#ffdcdc', legWidth: 2},
    {name: shNames[2], values: monthlyS20, color: '#0000ff', dash: '5,2', mark: 'up', leg: null},
    {name: shNames[3], values: monthlyS30, color: '#ff00ff', dash: '4,2', mark: 'dn', leg: '#ffc8ff', legWidth: 2},
    {name: shNames[4], values: monthlyS40, color: '#00a030', dash: '2,2', mark: 'sq', leg: '#00b040', legWidth: 1.4},
    {name: shNames[5], values: monthlyS50, color: '#000090', dash: '2,2', mark: 'lt', leg: '#dcdcff'},
    {name: 'Global', values: monthlyGlobal, color: '#2e8b2e', dash: null, mark: 'sq', leg: '#b8c8a8', legWidth: 2.4}
  ],
  legend: {x: 754, y: 343, w: 111, h: 135, y0: 357, dy: 18.6, tx: 796, fontSize: 15.4, markSize: 6}
});

// (c)
drawPanel({
  left: 63, right: 750, top: 517, bottom: 725,
  xDomain: [-1, 35], yDomain: [365, 400],
  xValues: seasonIndex, xTicks: winterTicks, xLabels: winterTickLabels,
  yTicks: concTicks.slice(0, 8), yMinor: concMinor.slice(0, 7),
  tickOffset: 17, titleOffset: 32,
  label: '(c)', xTitle: 'Season', yTitle: ['Seasonal CO', ' Concentration (ppm)'],
  lineWidth: 1, markSize: 22,
  series: [
    {name: nhNames[0], values: seasonalN0, color: '#000000', dash: '6,3', mark: 'sq', leg: null},
    {name: nhNames[1], values: seasonalN10, color: '#ff0000', dash: '8,3', mark: 'sq', leg: null},
    {name: nhNames[2], values: seasonalN20, color: '#0000ff', dash: '6,2,2,2', mark: 'up', leg: '#7a7aff'},
    {name: nhNames[3], values: seasonalN30, color: '#ff00ff', dash: '2,2', mark: 'dn', leg: '#ff60ff', legWidth: 2.4},
    {name: nhNames[4], values: seasonalN40, color: '#008000', dash: '4,2', mark: 'ci', leg: '#008000'},
    {name: nhNames[5], values: seasonalN50, color: '#000080', dash: '6,2,2,2', mark: 'lt', leg: '#2a2a8a', legWidth: 2.2},
    {name: nhNames[6], values: seasonalN60, color: '#9933ff', dash: '2,2', mark: 'rt', leg: '#9933ff'},
    {name: nhNames[7], values: seasonalN70, color: '#990099', dash: null, mark: 'ci', leg: '#990099', legWidth: 1.6},
    {name: nhNames[8], values: seasonalN80, color: '#b02020', dash: null, mark: 'st', leg: '#eea0a0', legWidth: 2.4},
    {name: 'Global', values: seasonalGlobalN, color: '#7fdc1e', dash: '6,2,2,2', mark: 'sq', leg: '#eeeeee'}
  ],
  legend: {x: 756, y: 537, w: 120, h: 187, y0: 548, dy: 18.5, tx: 796, fontSize: 15, markSize: 20}
});

// (d)
drawPanel({
  left: 63, right: 750, top: 764, bottom: 973,
  xDomain: [-1, 35], yDomain: [365, 400],
  xValues: seasonIndex, xTicks: winterTicks, xLabels: winterTickLabels,
  yTicks: concTicks.slice(0, 8), yMinor: concMinor.slice(0, 7),
  tickOffset: 18, titleOffset: 34,
  label: '(d)', xTitle: 'Season', yTitle: ['Seasonal CO', ' Concentration (ppm)'],
  lineWidth: 1, markSize: 22,
  series: [
    {name: shNames[0], values: seasonalS0, color: '#000000', dash: '6,3', mark: 'sq', leg: '#555555', legWidth: 1.6},
    {name: shNames[1], values: seasonalS10, color: '#ff0000', dash: '6,2,2,2', mark: 'ci', leg: '#ff0000'},
    {name: shNames[2], values: seasonalS20, color: '#0000ff', dash: '3,2', mark: 'up', leg: '#5050ff'},
    {name: shNames[3], values: seasonalS30, color: '#ff00ff', dash: '2,2', mark: 'dn', leg: '#ff50ff'},
    {name: shNames[4], values: seasonalS40, color: '#008000', dash: null, mark: 'ci', leg: '#1a961a'},
    {name: shNames[5], values: seasonalS50, color: '#000080', dash: '4,2', mark: 'lt', leg: '#3333aa', legWidth: 1.6},
    {name: 'Global', values: seasonalGlobalS, color: '#4cb82a', dash: '5,2', mark: 'ci', leg: '#4cb82a'}
  ],
  legend: {x: 756, y: 841, w: 109, h: 132, y0: 852, dy: 18.6, tx: 797, fontSize: 15.4, markSize: 20}
});

const anomalySeries = (vals) => [
  {name: nhNames[0], values: vals[0], color: '#000000', mark: 'sq', leg: '#cccccc'},
  {name: nhNames[1], values: vals[1], color: '#ff0000', mark: 'ci', leg: null},
  {name: nhNames[2], values: vals[2], color: '#0000ff', mark: 'up', leg: '#0000ff'},
  {name: nhNames[3], values: vals[3], color: '#ff00ff', mark: 'dn', leg: '#ff00ff'},
  {name: nhNames[4], values: vals[4], color: '#008000', mark: 'di', leg: null},
  {name: nhNames[5], values: vals[5], color: '#000080', mark: 'lt', leg: '#c8c8e8'},
  {name: nhNames[6], values: vals[6], color: '#9900ff', mark: 'rt', leg: '#9900ff'},
  {name: nhNames[7], values: vals[7], color: '#990099', mark: 'ci', leg: '#e070c0'},
  {name: nhNames[8], values: vals[8], color: '#aa2222', mark: 'st', leg: null},
  {name: shNames[0], values: vals[9], color: '#808000', mark: 'ci', leg: '#808000'},
  {name: shNames[1], values: vals[10], color: '#1e6ec8', mark: 'di', leg: '#1e6ec8'},
  {name: shNames[2], values: vals[11], color: '#c8c8c8', mark: null, leg: '#e4e4e4'},
  {name: shNames[3], values: vals[12], color: '#d08840', mark: 'x', leg: null},
  {name: shNames[4], values: vals[13], color: '#22dd55', mark: 'x', leg: '#22dd55'},
  {name: shNames[5], values: vals[14], color: '#ff5a96', mark: null, leg: '#ff5a96'},
  {name: 'Global', values: vals[15], color: '#00c8c8', mark: null, leg: null}
];

// (e)
drawPanel({
  left: 63, right: 749, top: 1018, bottom: 1237,
  xDomain: [0.47, 12.5], yDomain: [-4, 6],
  xValues: monthNumbers, xTicks: monthNumbers, xLabels: monthNumbers.map(String),
  yTicks: [-4, -3, -2, -1, 0, 1, 2, 3, 4, 5, 6], yMinor: [-3.5, -2.5, -1.5, -0.5, 0.5, 1.5, 2.5, 3.5, 4.5, 5.5],
  tickOffset: 23, titleOffset: 38,
  label: '(c)', xTitle: 'Month', yTitle: ['CO', ' Concentration Annomaly (ppm)'], yTitleY: 1142,
  lineWidth: 1, markSize: 16,
  series: anomalySeries([anomN0, anomN10, anomN20, anomN30, anomN40, anomN50, anomN60, anomN70, anomN80,
    anomS0, anomS10, anomS20, anomS30, anomS40, anomS50, anomGlobal]).map(s => Object.assign(s, {dash: '2,2'})),
  legend: {x: 757, y: 1118, w: 107, h: 278, y0: 1128, dy: 17.3, tx: 796, fontSize: 15, markSize: 14, dotted: true}
});

// (f)
drawPanel({
  left: 63, right: 750, top: 1285, bottom: 1506,
  xDomain: [-0.5, 3.5], yDomain: [-4, 4],
  xValues: [0, 1, 2, 3], xTicks: [0, 1, 2, 3], xLabels: seasonNames,
  yTicks: [-4, -3, -2, -1, 0, 1, 2, 3, 4], yMinor: [-3.5, -2.5, -1.5, -0.5, 0.5, 1.5, 2.5, 3.5],
  tickOffset: 22, titleOffset: 37,
  label: '(f)', xTitle: 'Season', yTitle: ['CO', ' Concentration Annomaly (ppm)'], yTitleY: 1402,
  lineWidth: 1, markSize: 16,
  series: anomalySeries([seasAnomN0, seasAnomN10, seasAnomN20, seasAnomN30, seasAnomN40, seasAnomN50, seasAnomN60, seasAnomN70, seasAnomN80,
    seasAnomS0, seasAnomS10, seasAnomS20, seasAnomS30, seasAnomS40, seasAnomS50, seasAnomGlobal]).map(s => Object.assign(s, {dash: '2,2'}))
});
</script>
</body>
</html>
